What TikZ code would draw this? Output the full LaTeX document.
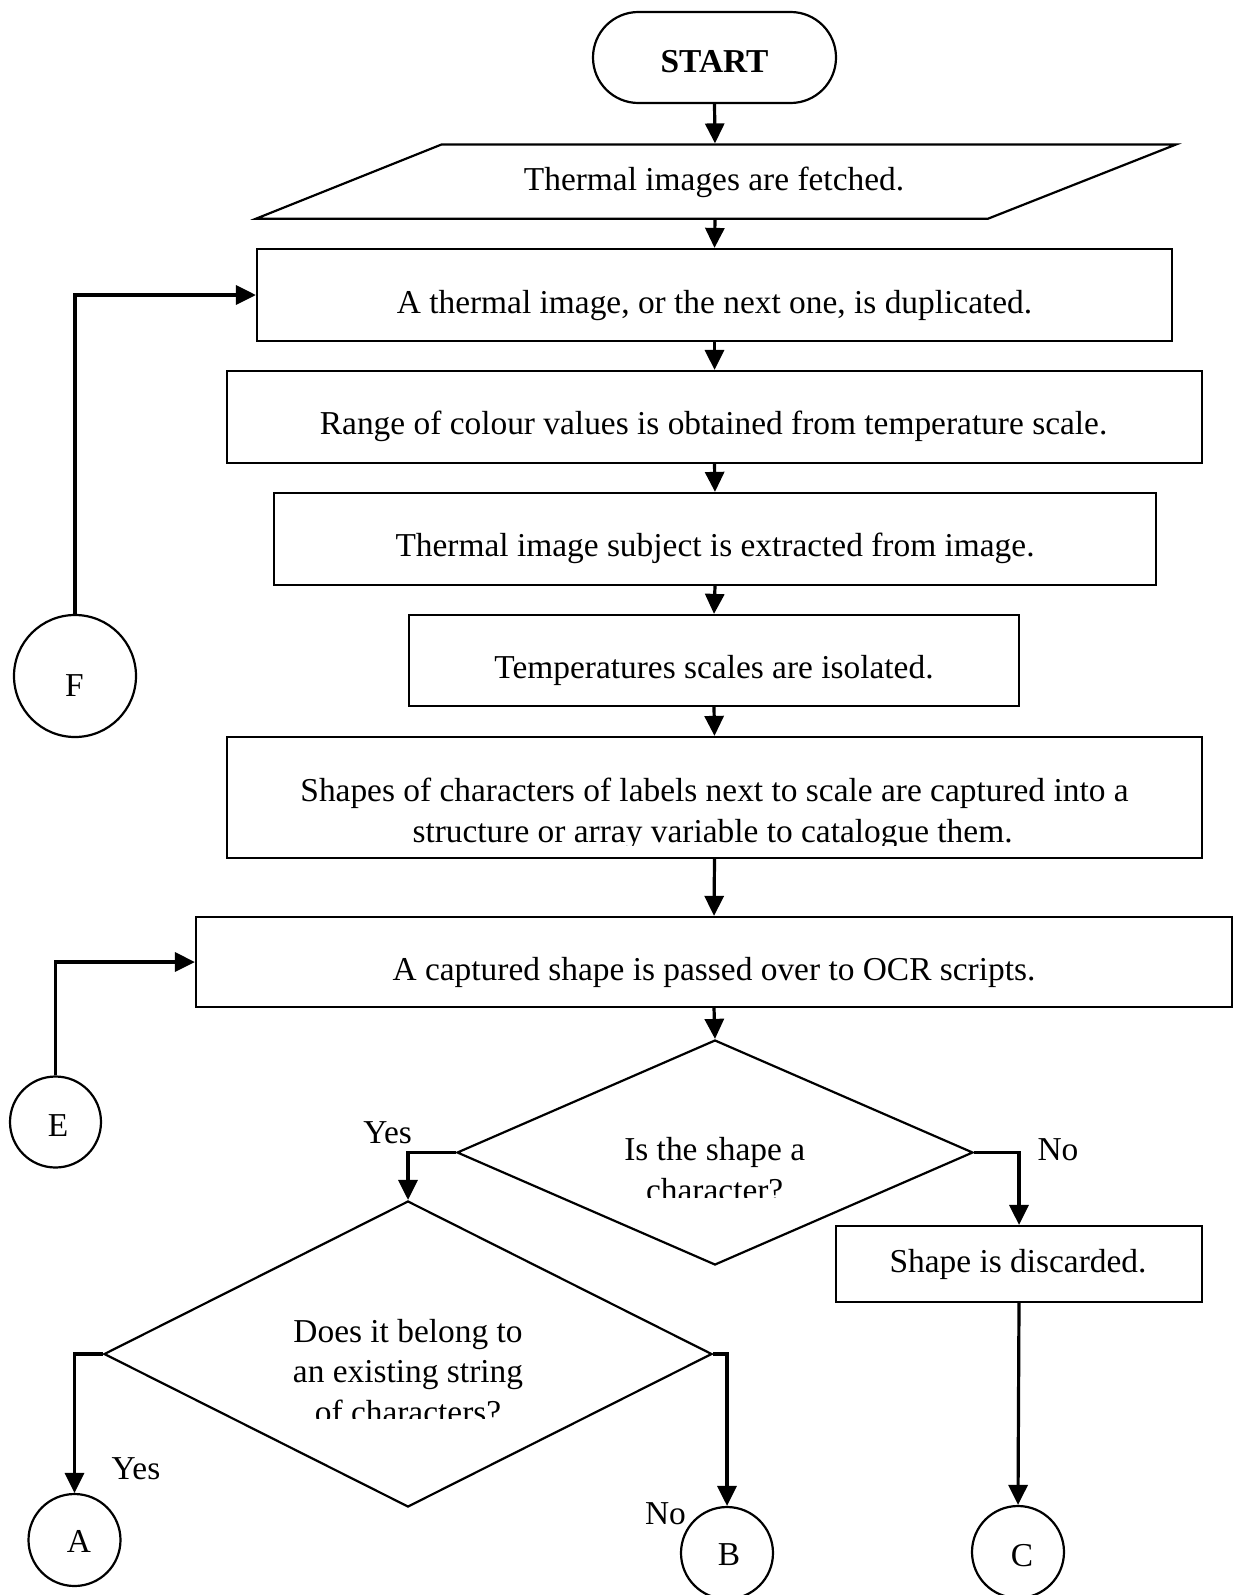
\documentclass[tikz,border=0pt]{standalone}
\usepackage{fontspec}
\setmainfont{Liberation Serif}
\usetikzlibrary{arrows.meta,shapes.geometric}
\begin{document}
\begin{tikzpicture}[x=0.5pt,y=-0.5pt,
  every node/.style={font=\fontsize{16.7pt}{20.5pt}\selectfont},
  box/.style={draw, line width=1.1pt, rectangle, inner sep=0pt},
  dia/.style={draw, line width=1.1pt, diamond, inner sep=0pt},
  circ/.style={draw, line width=1.1pt, circle, inner sep=0pt},
  txt/.style={anchor=base, inner sep=0pt},
  conn/.style={line width=1.6pt, -{Triangle[length=10pt,width=9.5pt]}}]
\useasboundingbox (0,0) rectangle (1232,1595);

% terminator
\node[box, rounded corners=22.7pt, minimum width=121.5pt, minimum height=45.5pt] (start) at (714.5,57.5) {};
\node[txt] (startt) at (714.5,73) {\textbf{START}};

% parallelogram
\draw[line width=1.1pt] (441.5,144.5) -- (1176,144.5) -- (988,218.7) -- (256,218.7) -- cycle;
\node[inner sep=0pt, outer sep=0.55pt, minimum width=100pt, minimum height=37.1pt] (para) at (715,181.6) {};
\node[txt] (parat) at (714,191) {Thermal images are fetched.};

% process boxes
\node[box, minimum width=457.5pt, minimum height=46pt] (b1) at (714.5,295) {};
\node[txt] (b1t) at (714.5,313) {A thermal image, or the next one, is duplicated.};
\node[box, minimum width=487.5pt, minimum height=46pt] (b2) at (714.5,417) {};
\node[txt] (b2t) at (713.6,434) {Range of colour values is obtained from temperature scale.};
\node[box, minimum width=441pt, minimum height=46pt] (b3) at (715,539) {};
\node[txt] (b3t) at (715,556) {Thermal image subject is extracted from image.};
\node[box, minimum width=305pt, minimum height=45.5pt] (b4) at (714,660.5) {};
\node[txt] (b4t) at (714,678) {Temperatures scales are isolated.};
\node[box, minimum width=487.5pt, minimum height=60.5pt] (b5) at (714.5,797.5) {};
\node[txt] (b5ta) at (714.5,801) {Shapes of characters of labels next to scale are captured into a};
\begin{scope}
  \clip (0,0) rectangle (1232,845);
  \node[txt] (b5tb) at (712.5,842.5) {structure or array variable to catalogue them.};
\end{scope}
\node[box, minimum width=518pt, minimum height=45pt] (b6) at (714,962) {};
\node[txt] (b6t) at (714,980) {A captured shape is passed over to OCR scripts.};

% decisions
\node[dia, minimum width=258pt, minimum height=112.5pt] (d1) at (715,1152.5) {};
\begin{scope}
  \clip (0,0) rectangle (1232,1197);
  \node[txt] (d1ta) at (714.7,1160) {Is the shape a};
  \node[txt] (d1tb) at (714.7,1201) {character?};
\end{scope}
\node[dia, minimum width=304pt, minimum height=153pt] (d2) at (408,1354) {};
\begin{scope}
  \clip (0,0) rectangle (1232,1418);
  \node[txt] (d2ta) at (408,1342) {Does it belong to};
  \node[txt] (d2tb) at (408,1382.5) {an existing string};
  \node[txt] (d2tc) at (408,1423) {of characters?};
\end{scope}

\node[box, minimum width=183pt, minimum height=38pt] (disc) at (1019,1264) {};
\node[txt] (disct) at (1018,1272) {Shape is discarded.};

% connectors (circles)
\node[circ, minimum size=61pt] (F) at (75,676) {};
\node[txt] (Ft) at (74.3,696) {F};
\node[circ, minimum size=45.5pt] (E) at (55.5,1122) {};
\node[txt] (Et) at (58,1136) {E};
\node[circ, minimum size=46pt] (A) at (74.5,1540) {};
\node[txt] (At) at (79,1552) {A};
\node[circ, minimum size=46pt] (B) at (727,1553) {};
\node[txt] (Bt) at (729,1565) {B};
\node[circ, minimum size=46pt] (C) at (1018,1552) {};
\node[txt] (Ct) at (1022,1566) {C};

% labels
\node[txt] (yes1) at (387.6,1143) {Yes};
\node[txt] (no1) at (1058,1160) {No};
\node[txt] (yes2) at (136,1479) {Yes};
\node[txt] (no2) at (665.5,1524) {No};

% arrows
\draw[conn] (start.south) -- (para.north);
\draw[conn] (para.south) -- (b1.north);
\draw[conn] (b1.south) -- (b2.north);
\draw[conn] (b2.south) -- (b3.north);
\draw[conn] (b3.south) -- (b4.north);
\draw[conn] (b4.south) -- (b5.north);
\draw[conn] (b5.south) -- (b6.north);
\draw[conn] (b6.south) -- (d1.north);
\draw[conn] (d1.west) -| (d2.north);
\draw[conn] (d1.east) -| (disc.north);
\draw[conn] (disc.south) -- (C.north);
\draw[conn] (d2.west) -| (A.north);
\draw[conn] (d2.east) -| (B.north);
\draw[conn] (F.north) |- (b1.west);
\draw[conn] (E.north) |- (b6.west);
\end{tikzpicture}
\end{document}
